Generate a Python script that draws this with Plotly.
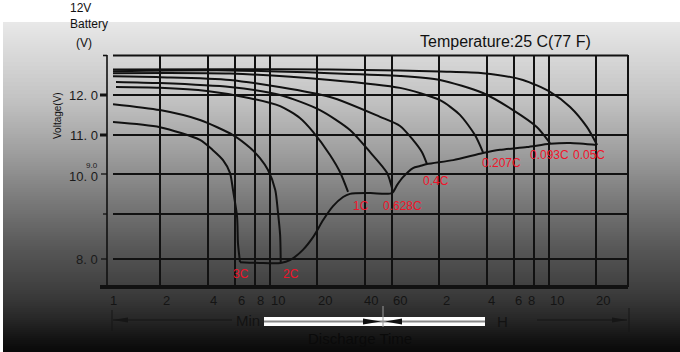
import math
import plotly.graph_objects as go

# ---------------- data (minutes, volts) ----------------
t_3c = [1.0, 1.99, 3.58, 4.33, 5.02, 5.56, 5.81, 6.17, 6.25, 6.44]
v_3c = [11.32, 11.19, 10.87, 10.61, 10.36, 10.04, 9.61, 8.93, 8.27, 7.79]

t_2c = [1.0, 1.99, 3.58, 5.81, 7.46, 8.63, 9.71, 10.8, 11.2, 11.6, 11.7]
v_2c = [11.77, 11.62, 11.37, 10.99, 10.67, 10.41, 10.11, 9.61, 9.10, 8.47, 7.79]

t_1c = [1.045, 1.99, 3.97, 7.46, 11.6, 15.5, 18.8, 24.1, 27.9, 31.4]
v_1c = [12.20, 12.18, 12.10, 11.92, 11.72, 11.42, 11.07, 10.49, 10.06, 9.56]

t_0628 = [1.045, 1.99, 5.56, 11.6, 20.8, 32.3, 43.4, 55.6, 60.7]
v_0628 = [12.33, 12.30, 12.20, 12.00, 11.62, 11.12, 10.56, 10.04, 9.56]

t_04 = [1.0, 1.99, 5.56, 24.1, 50.2, 67.3, 81.4, 92.9, 100]
v_04 = [12.47, 12.45, 12.38, 11.95, 11.45, 11.22, 10.87, 10.56, 10.26]

t_0207 = [1.0, 5.56, 24.1, 67.3, 121, 162, 202, 227]
v_0207 = [12.55, 12.54, 12.38, 12.18, 11.87, 11.50, 10.99, 10.56]

t_0093 = [1.0, 5.56, 24.1, 67.3, 121, 227, 353, 502, 607]
v_0093 = [12.60, 12.62, 12.55, 12.48, 12.38, 12.05, 11.62, 11.19, 10.79]

t_005 = [1.0, 5.56, 24.1, 67.3, 121, 227, 408, 607, 815, 1045, 1211]
v_005 = [12.64, 12.65, 12.64, 12.62, 12.59, 12.55, 12.38, 12.08, 11.70, 11.19, 10.74]

# final (cut-off) voltage locus
t_end = [6.44, 8.63, 11.7, 13.4, 16.2, 18.8, 21.8, 25.2, 29.2, 32.3, 43.4, 59.8,
         64.4, 70.3, 81.4, 90.2, 100, 147, 227, 292, 433, 607, 815, 1211]
v_end = [7.79, 7.77, 7.77, 7.84, 8.10, 8.42, 8.85, 9.20, 9.43, 9.51, 9.53, 9.53,
         9.73, 9.93, 10.16, 10.21, 10.26, 10.36, 10.54, 10.62, 10.69, 10.77, 10.79, 10.74]

rate_labels = ["3C", "2C", "1C", "0.628C", "0.4C", "0.207C", "0.093C", "0.05C"]
rate_label_t = [6.53, 13.6, 38.0, 70.3, 114, 300, 607, 1076]
rate_label_v = [7.49, 7.49, 9.20, 9.20, 9.83, 10.29, 10.49, 10.49]

x_grid_vals = [1, 2, 4, 6, 8, 10, 20, 40, 60, 120, 240, 360, 480, 600, 1200]
x_tick_text = ["1", "2", "4", "6", "8", "10", "20", "40", "60", "2", "4", "6", "8", "10", "20"]
y_grid_vals = [12, 11, 10, 9, 7.87]
y_tick_text = ["12. 0", "11. 0", "10. 0", "", "8. 0"]

# ---------------- layout helpers (pixel -> paper) ----------------
W, H = 680, 352
L, R, T, B = 113, 628, 55, 287
PW, PH = R - L, B - T


def px(x):
    return (x - L) / PW


def py(y):
    return (B - y) / PH


FONT = "Liberation Sans, Arial, sans-serif"

fig = go.Figure()

curves = [(t_3c, v_3c), (t_2c, v_2c), (t_1c, v_1c), (t_0628, v_0628), (t_04, v_04),
          (t_0207, v_0207), (t_0093, v_0093), (t_005, v_005), (t_end, v_end)]
for tt, vv in curves:
    fig.add_trace(go.Scatter(x=tt, y=vv, mode="lines",
                             line=dict(color="#111111", width=2, shape="spline", smoothing=0.7),
                             hoverinfo="skip", showlegend=False))

shapes = []
# background gradient (white band at top, then gray to black)
stops = [(22, 232), (60, 214), (100, 194), (150, 160), (200, 122), (250, 86),
         (287, 64), (300, 55), (320, 38), (338, 20), (352, 8)]


def gray_at(y):
    for (y0, g0), (y1, g1) in zip(stops[:-1], stops[1:]):
        if y0 <= y <= y1:
            return g0 + (g1 - g0) * (y - y0) / (y1 - y0)
    return stops[-1][1]


y = 22
while y < H:
    g = int(round(gray_at(y + 1)))
    shapes.append(dict(type="rect", xref="paper", yref="paper", layer="below",
                       x0=px(3), x1=px(W), y0=py(y + 2.5), y1=py(y),
                       fillcolor=f"rgb({g},{g},{g})", line=dict(width=0)))
    y += 2

# axis decoration lines
blk = "#111111"
shapes += [
    dict(type="line", xref="paper", yref="paper", x0=px(107), x1=px(107), y0=py(55), y1=py(287),
         line=dict(color=blk, width=1.6)),
    dict(type="line", xref="paper", yref="paper", x0=px(103), x1=px(107), y0=py(55.5), y1=py(55.5),
         line=dict(color=blk, width=1.6)),
    dict(type="line", xref="paper", yref="paper", x0=px(100), x1=px(628), y0=py(287), y1=py(287),
         line=dict(color=blk, width=4)),
    dict(type="line", xref="paper", yref="paper", x0=px(113), x1=px(628), y0=py(55.5), y1=py(55.5),
         line=dict(color=blk, width=2)),
    dict(type="line", xref="paper", yref="paper", x0=px(628), x1=px(628), y0=py(55), y1=py(287),
         line=dict(color=blk, width=2)),
]
for yy, x0, w in [(95, 100, 3), (135, 100, 3), (174, 101, 1.3), (214, 103, 1.3), (259, 101, 1.3)]:
    shapes.append(dict(type="line", xref="paper", yref="paper", x0=px(x0), x1=px(107),
                       y0=py(yy), y1=py(yy), line=dict(color=blk, width=w)))

# discharge-time arrows under the axis
dk = "#161616"
shapes += [
    dict(type="line", xref="paper", yref="paper", x0=px(112), x1=px(112), y0=py(310), y1=py(331),
         line=dict(color=dk, width=1)),
    dict(type="line", xref="paper", yref="paper", x0=px(113), x1=px(232), y0=py(320), y1=py(320),
         line=dict(color=dk, width=1)),
    dict(type="path", xref="paper", yref="paper",
         path=f"M {px(113)},{py(320)} L {px(128)},{py(317.5)} L {px(128)},{py(322.5)} Z",
         fillcolor=dk, line=dict(width=0)),
    dict(type="rect", xref="paper", yref="paper", x0=px(264), x1=px(485), y0=py(326), y1=py(317),
         fillcolor="white", line=dict(width=0)),
    dict(type="line", xref="paper", yref="paper", x0=px(264), x1=px(485), y0=py(321.5), y1=py(321.5),
         line=dict(color="#8a8a8a", width=2)),
    dict(type="path", xref="paper", yref="paper",
         path=f"M {px(381)},{py(321.5)} L {px(363)},{py(318.5)} L {px(363)},{py(324.5)} Z",
         fillcolor="#111", line=dict(width=0)),
    dict(type="path", xref="paper", yref="paper",
         path=f"M {px(385)},{py(321.5)} L {px(402)},{py(318.5)} L {px(402)},{py(324.5)} Z",
         fillcolor="#111", line=dict(width=0)),
    dict(type="line", xref="paper", yref="paper", x0=px(383), x1=px(383), y0=py(306), y1=py(327),
         line=dict(color="#9a9a9a", width=1)),
    dict(type="line", xref="paper", yref="paper", x0=px(537), x1=px(627), y0=py(320), y1=py(320),
         line=dict(color=dk, width=1)),
    dict(type="path", xref="paper", yref="paper",
         path=f"M {px(627)},{py(320)} L {px(612)},{py(317.5)} L {px(612)},{py(322.5)} Z",
         fillcolor=dk, line=dict(width=0)),
    dict(type="line", xref="paper", yref="paper", x0=px(629), x1=px(629), y0=py(308), y1=py(332),
         line=dict(color=dk, width=1)),
]

ann = []


def text(x, y, s, size, color="#111111", xanchor="center", angle=0):
    ann.append(dict(xref="paper", yref="paper", x=px(x), y=py(y), text=s, showarrow=False,
                    xanchor=xanchor, yanchor="middle", textangle=angle,
                    font=dict(family=FONT, size=size, color=color)))


text(68, 8, "12V", 12, xanchor="left")
text(68, 24, "Battery", 12, xanchor="left")
text(74, 43, "(V)", 12, xanchor="left")
text(418, 42, "Temperature:25 C(77 F)", 16, xanchor="left")
text(57, 116, "Voltage(V)", 10, angle=-90)

# y tick labels
y_label_px = [95, 135, 176, 214, 259]
for yp, s in zip(y_label_px, y_tick_text):
    if s:
        text(100, yp, s, 13, color="#1a1a1a", xanchor="right")
text(100, 165, "9.0", 8, color="#1a1a1a", xanchor="right")

# x tick labels (drawn as annotations with a small offset like the original)
x_label_shift = [0, 6, 6, 6, 6, 8, 8, 6, 8, 7, 5, 4, -2, 8, 7]
for xv, s, sh in zip(x_grid_vals, x_tick_text, x_label_shift):
    ann.append(dict(xref="x", yref="paper", x=math.log10(xv), y=py(300), text=s,
                    showarrow=False, xshift=sh, xanchor="center", yanchor="middle",
                    font=dict(family=FONT, size=13, color="#141414")))

text(248, 320, "Min", 15, color="#121212")
text(502, 321, "H", 15, color="#121212")
text(360, 338, "Discharge Time", 15, color="#0a0a0a")

for s, tt, vv in zip(rate_labels, rate_label_t, rate_label_v):
    ann.append(dict(xref="x", yref="y", x=math.log10(tt), y=vv, text=s,
                    showarrow=False, xanchor="center", yanchor="middle",
                    font=dict(family=FONT, size=12, color="#f0142a")))

fig.update_layout(
    width=W, height=H,
    margin=dict(l=L, r=W - R, t=T, b=H - B, pad=0),
    paper_bgcolor="white", plot_bgcolor="rgba(0,0,0,0)",
    showlegend=False,
    shapes=shapes, annotations=ann,
    xaxis=dict(type="log", range=[0, 3.28], tickvals=x_grid_vals, showticklabels=False,
               ticks="", showgrid=True, gridcolor=blk, gridwidth=2, zeroline=False,
               showline=False, fixedrange=True),
    yaxis=dict(range=[7.164, 13.008], tickvals=y_grid_vals, showticklabels=False,
               ticks="", showgrid=True, gridcolor=blk, gridwidth=2, zeroline=False,
               showline=False, fixedrange=True),
)

fig.write_html("out.html", config={"displayModeBar": False},
               post_script="document.body.style.margin='0px';document.body.style.padding='0px';")
